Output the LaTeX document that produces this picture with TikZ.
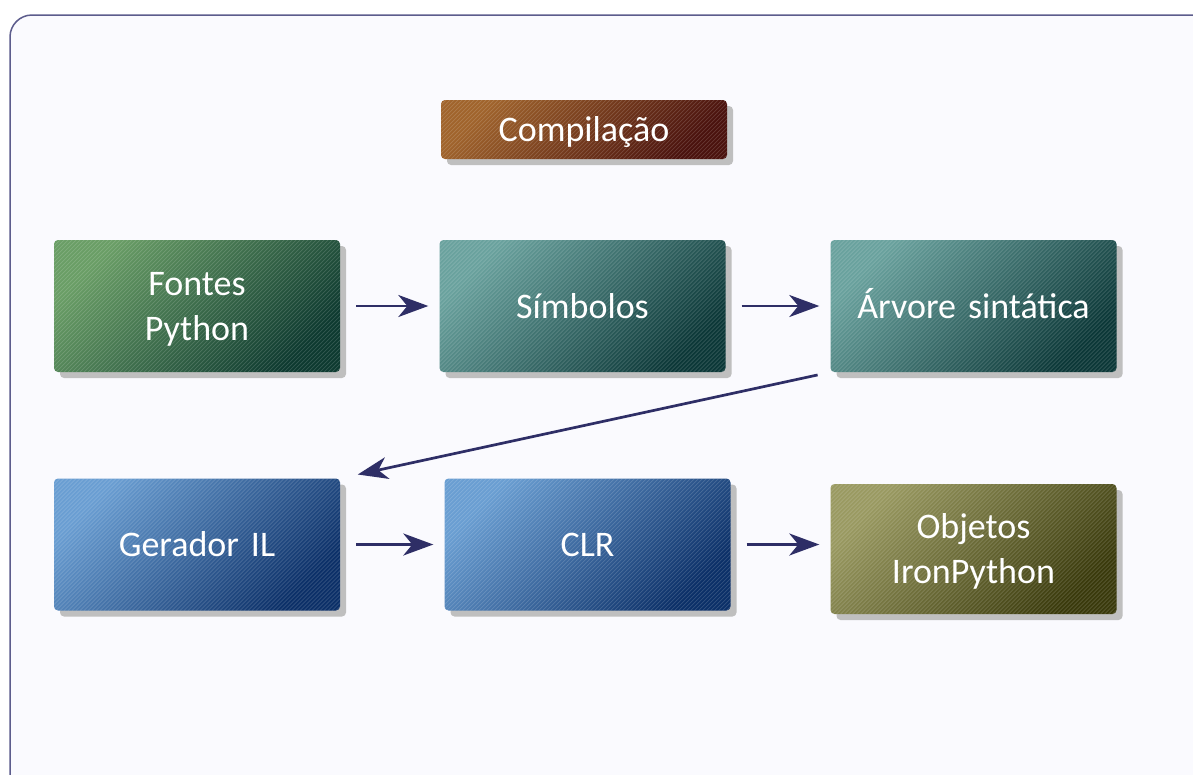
\documentclass[tikz,border=0pt]{standalone}
\usepackage{xcolor}
\usepackage{fontspec}
\setmainfont{Carlito}
\usetikzlibrary{arrows.meta, shadows}

\definecolor{framecol}{HTML}{5C5C8C}
\definecolor{paper}{HTML}{FAFAFE}
\definecolor{arrowcol}{HTML}{2E2E66}
\definecolor{brownA}{HTML}{A0642C}
\definecolor{brownB}{HTML}{4A120E}
\definecolor{greenA}{HTML}{6A9E66}
\definecolor{greenB}{HTML}{0E3A30}
\definecolor{tealA}{HTML}{6AA29E}
\definecolor{tealB}{HTML}{0C3838}
\definecolor{blueA}{HTML}{6A9ED2}
\definecolor{blueB}{HTML}{0C3068}
\definecolor{oliveA}{HTML}{9A9A62}
\definecolor{oliveB}{HTML}{3A3A0C}

\tikzset{
    box/.style={rectangle, rounded corners=4pt, minimum width=286pt,
        minimum height=132pt, text width=270pt, align=center,
        text=white, font=\fontsize{36}{45}\selectfont,
        execute at begin node={\rule{0pt}{34pt}},
        execute at end node={\rule[-10pt]{0pt}{10pt}},
        drop shadow={shadow xshift=6pt, shadow yshift=-6pt, fill=black!25, opacity=1},
        path picture={
            \foreach \k in {-150,-146,...,290}
                \draw[white, opacity=0.16, line width=0.7pt]
                    ([xshift=\k pt]path picture bounding box.south west) -- ++(160pt,160pt);
        }},
    shadecol/.style 2 args={top color=#1, bottom color=#2, shading angle=45},
    link/.style={-{Stealth[length=30pt, width=22pt, inset=9pt]}, draw=arrowcol,
        line width=2.7pt, shorten <=16pt, shorten >=11pt}
}

\begin{document}
\begin{tikzpicture}[x=1pt, y=-1pt]
    \useasboundingbox (0, 0) rectangle (1193, 774);
    \fill[white] (0, 0) rectangle (1193, 774);
    \begin{scope}
        \clip (0, 0) rectangle (1193, 774);
        \draw[framecol, fill=paper, line width=1.5pt, rounded corners=22pt]
            (10, 15) rectangle (1240, 820);
    \end{scope}

    \node[box, shadecol={brownA}{brownB}, minimum height=59pt] at (584, 129.5) (comp) {Compilação};

    \node[box, shadecol={greenA}{greenB}] at (197, 306) (fontes) {Fontes\\Python};
    \node[box, shadecol={tealA}{tealB}] at (582.5, 306) (simb) {Símbolos};
    \node[box, shadecol={tealA}{tealB}] at (973.5, 306) (arvore) {Árvore sintática};

    \node[box, shadecol={blueA}{blueB}] at (197, 544.5) (gerador) {Gerador IL};
    \node[box, shadecol={blueA}{blueB}] at (587.5, 544.5) (clr) {CLR};
    \node[box, shadecol={oliveA}{oliveB}, minimum height=130pt] at (973.5, 549) (objetos) {Objetos\\IronPython};

    \draw[link] (fontes) -- (simb);
    \draw[link] (simb) -- (arvore);
    \draw[link, shorten <=13pt, shorten >=18pt] (arvore.south west) -- (gerador.north east);
    \draw[link] (gerador) -- (clr);
    \draw[link] (clr) -- (clr -| objetos.west);
\end{tikzpicture}
\end{document}
